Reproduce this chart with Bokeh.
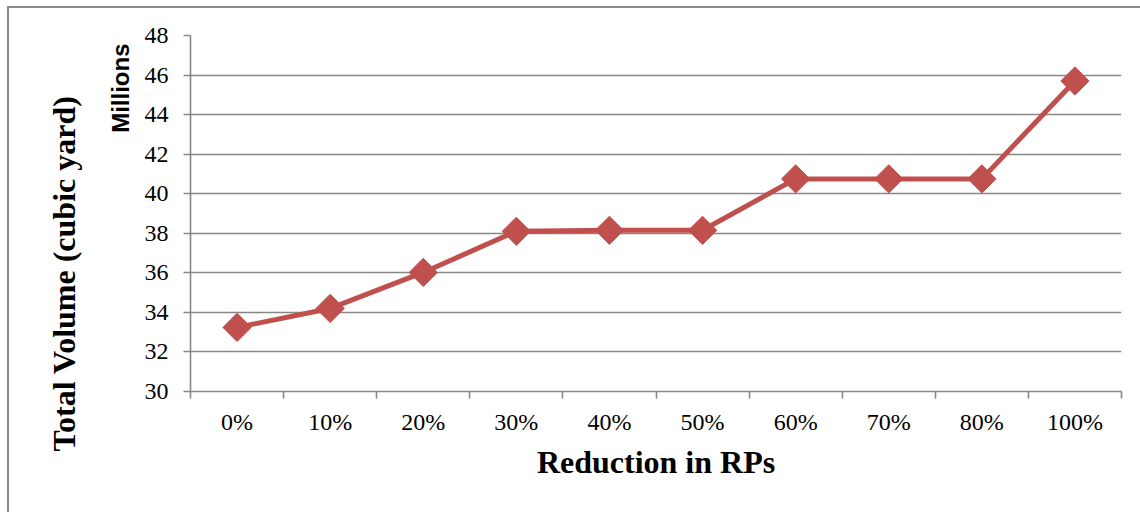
from bokeh.plotting import figure
from bokeh.models import FixedTicker, Range1d, Title, ColumnDataSource, InlineStyleSheet
from bokeh.embed import file_html
from bokeh.resources import INLINE
import numpy as np

categories = ["0%", "10%", "20%", "30%", "40%", "50%", "60%", "70%", "80%", "100%"]
volume_millions = [33.24, 34.2, 36.02, 38.1, 38.15, 38.15, 40.75, 40.75, 40.75, 45.7]
y_ticks = [30, 32, 34, 36, 38, 40, 42, 44, 46, 48]

xs = list(range(len(categories)))
src = ColumnDataSource(dict(x=xs, y=volume_millions))

p = figure(width=1140, height=512, output_backend="svg", toolbar_location=None,
           x_range=Range1d(-0.5, len(categories) - 0.5), y_range=Range1d(30, 48),
           min_border_left=190, min_border_right=19, min_border_top=35, min_border_bottom=121)
p.outline_line_color = None
p.background_fill_color = "white"
p.border_fill_color = "white"

grid_col = "#878787"
p.xgrid.visible = False
p.ygrid.grid_line_color = grid_col
p.ygrid.grid_line_width = 1.6

# Y axis
p.yaxis.ticker = FixedTicker(ticks=y_ticks)
p.yaxis.axis_line_color = grid_col
p.yaxis.axis_line_width = 1.6
p.yaxis.major_tick_line_color = grid_col
p.yaxis.major_tick_line_width = 1.6
p.yaxis.major_tick_out = 7
p.yaxis.major_tick_in = 0
p.yaxis.minor_tick_line_color = None
p.yaxis.minor_tick_out = 0
p.yaxis.major_label_text_font = "Liberation Serif"
p.yaxis.major_label_text_font_size = "24px"
p.yaxis.major_label_text_color = "black"
p.yaxis.major_label_standoff = 15

# X axis
p.xaxis.ticker = FixedTicker(ticks=xs, minor_ticks=[i - 0.5 for i in range(len(categories) + 1)])
p.xaxis.major_label_overrides = {i: c for i, c in enumerate(categories)}
p.xaxis.axis_line_color = grid_col
p.xaxis.axis_line_width = 1.6
p.xaxis.major_tick_line_color = None
p.xaxis.major_tick_out = 0
p.xaxis.major_tick_in = 0
p.xaxis.minor_tick_line_color = grid_col
p.xaxis.minor_tick_line_width = 1.6
p.xaxis.minor_tick_out = 7
p.xaxis.minor_tick_in = 0
p.xaxis.major_label_text_font = "Liberation Serif"
p.xaxis.major_label_text_font_size = "24px"
p.xaxis.major_label_text_color = "black"
p.xaxis.major_label_standoff = 10
p.xaxis.axis_label = "Reduction in RPs"
p.xaxis.axis_label_text_font = "Liberation Serif"
p.xaxis.axis_label_text_font_style = "bold"
p.xaxis.axis_label_text_font_size = "32px"
p.xaxis.axis_label_text_color = "black"
p.xaxis.axis_label_standoff = 6

color = "#C0504D"
p.line("x", "y", source=src, line_color=color, line_width=5)
p.scatter("x", "y", source=src, marker="square", angle=np.pi / 4, size=20,
          fill_color=color, line_color=color)

p.add_layout(Title(text="Millions", align="right", offset=8, standoff=15,
                   text_font="Liberation Sans", text_font_style="bold",
                   text_font_size="24px", text_color="black"), "left")
p.add_layout(Title(text="Total Volume (cubic yard)", align="right", offset=60, standoff=32,
                   text_font="Liberation Serif", text_font_style="bold",
                   text_font_size="32px", text_color="black"), "left")

p.stylesheets = [InlineStyleSheet(css=(
    ":host::after { content: ''; position: absolute; left: 7px; top: 6px; right: 0; bottom: 0;"
    " border-left: 2px solid #8c8c8c; border-top: 2px solid #8c8c8c;"
    " pointer-events: none; z-index: 50; }"))]

open("out.html", "w").write(file_html(p, INLINE))
